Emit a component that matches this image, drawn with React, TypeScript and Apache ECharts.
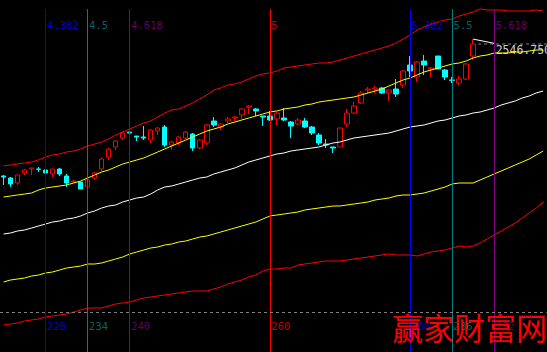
import React, { useEffect, useRef } from 'react';
import * as echarts from 'echarts';

// trading-day indices (x categories)
const categories = [
  '222','223','224','225','226','227','228','229','230','231',
  '232','233','234','235','236','237','238','239','240','241',
  '242','243','244','245','246','247','248','249','250','251',
  '252','253','254','255','256','257','258','259','260','261',
  '262','263','264','265','266','267','268','269','270','271',
  '272','273','274','275','276','277','278','279','280','281',
  '282','283','284','285','286','287','288','289','290','291',
  '292','293','294','295','296','297','298','299',
];

// candles (days 222..289)
const opens = [
  2136, 2130, 2115, 2145, 2157, 2157, 2154, 2142, 2157, 2136,
  2118, 2118, 2103, 2130, 2157, 2193, 2223, 2250, 2268, 2256,
  2253, 2244, 2271, 2283, 2229, 2235, 2250, 2262, 2220, 2235,
  2301, 2283, 2301, 2310, 2319, 2343, 2337, 2316, 2316, 2307,
  2310, 2298, 2292, 2301, 2283, 2259, 2232, 2223, 2223, 2292,
  2325, 2355, 2394, 2397, 2400, 2385, 2397, 2409, 2469, 2433,
  2481, 2457, 2496, 2454, 2424, 2415, 2427, 2496,
];
const closes = [
  2133, 2112, 2139, 2154, 2160, 2156, 2145, 2157, 2142, 2115,
  2121, 2097, 2124, 2145, 2187, 2217, 2241, 2265, 2265, 2253,
  2250, 2274, 2280, 2229, 2238, 2253, 2268, 2220, 2244, 2289,
  2289, 2292, 2307, 2313, 2337, 2346, 2331, 2313, 2304, 2325,
  2304, 2286, 2304, 2283, 2265, 2235, 2229, 2220, 2280, 2325,
  2346, 2385, 2397, 2400, 2385, 2394, 2382, 2451, 2451, 2478,
  2469, 2460, 2457, 2433, 2423, 2427, 2472, 2532,
];
const lows = [
  2109, 2103, 2109, 2139, 2139, 2148, 2133, 2133, 2136, 2103,
  2115, 2097, 2100, 2124, 2151, 2184, 2214, 2244, 2256, 2241,
  2244, 2235, 2259, 2223, 2214, 2229, 2247, 2211, 2217, 2229,
  2283, 2274, 2295, 2301, 2307, 2322, 2316, 2286, 2301, 2289,
  2301, 2250, 2289, 2280, 2259, 2229, 2220, 2205, 2223, 2283,
  2322, 2352, 2385, 2385, 2382, 2361, 2373, 2400, 2433, 2418,
  2439, 2433, 2457, 2424, 2415, 2409, 2424, 2484,
];
const highs = [
  2139, 2133, 2139, 2157, 2160, 2163, 2157, 2157, 2160, 2142,
  2124, 2118, 2130, 2148, 2190, 2220, 2244, 2268, 2271, 2256,
  2286, 2277, 2283, 2289, 2241, 2256, 2271, 2265, 2247, 2292,
  2313, 2295, 2313, 2316, 2340, 2349, 2340, 2316, 2331, 2328,
  2340, 2301, 2310, 2310, 2286, 2265, 2247, 2223, 2280, 2337,
  2358, 2391, 2403, 2406, 2403, 2394, 2427, 2454, 2496, 2481,
  2499, 2463, 2496, 2457, 2433, 2436, 2475, 2546.75,
];

// channel lines (days 222..299)
const upperRed = [
  2166, 2169, 2172, 2175, 2178, 2184, 2193, 2199, 2202, 2208,
  2211, 2217, 2226, 2232, 2238, 2247, 2259, 2268, 2277, 2286,
  2295, 2301, 2313, 2325, 2334, 2337, 2346, 2355, 2367, 2379,
  2394, 2400, 2409, 2412, 2418, 2427, 2436, 2442, 2445, 2451,
  2460, 2463, 2466, 2469, 2472, 2475, 2475, 2478, 2484, 2490,
  2496, 2502, 2508, 2514, 2520, 2526, 2535, 2547, 2559, 2574,
  2583, 2592, 2598, 2604, 2607, 2616, 2622, 2628, 2637, 2634,
  2634, 2634, 2631, 2631, 2631, 2631, 2634, 2631,
];
const upperYellow = [
  2073, 2076, 2079, 2082, 2085, 2094, 2100, 2103, 2106, 2109,
  2115, 2121, 2130, 2139, 2148, 2154, 2163, 2172, 2178, 2184,
  2190, 2199, 2208, 2217, 2226, 2235, 2244, 2253, 2262, 2271,
  2277, 2283, 2292, 2298, 2304, 2310, 2316, 2322, 2328, 2331,
  2337, 2340, 2343, 2349, 2352, 2358, 2361, 2364, 2367, 2370,
  2373, 2379, 2385, 2391, 2397, 2406, 2415, 2424, 2430, 2439,
  2448, 2454, 2460, 2466, 2472, 2475, 2481, 2490, 2496, 2499,
  2505, 2505, 2505, 2508, 2508, 2511, 2514, 2514,
];
const midWhite = [
  1962, 1965, 1971, 1974, 1980, 1986, 1992, 1998, 2001, 2007,
  2010, 2016, 2025, 2031, 2040, 2046, 2049, 2058, 2064, 2070,
  2073, 2082, 2094, 2103, 2106, 2112, 2118, 2124, 2130, 2133,
  2142, 2148, 2154, 2160, 2169, 2178, 2184, 2190, 2196, 2202,
  2205, 2211, 2214, 2217, 2220, 2223, 2229, 2235, 2238, 2244,
  2250, 2253, 2256, 2259, 2262, 2265, 2271, 2277, 2283, 2286,
  2289, 2295, 2301, 2304, 2310, 2316, 2319, 2325, 2328, 2334,
  2340, 2349, 2355, 2361, 2370, 2376, 2385, 2391,
];
const lowerYellow = [
  1818, 1824, 1827, 1830, 1836, 1839, 1845, 1848, 1854, 1860,
  1863, 1866, 1872, 1872, 1875, 1881, 1887, 1893, 1902, 1908,
  1914, 1920, 1923, 1929, 1932, 1938, 1941, 1947, 1953, 1956,
  1962, 1968, 1974, 1980, 1986, 1992, 1998, 2007, 2016, 2019,
  2022, 2025, 2028, 2034, 2037, 2040, 2043, 2046, 2046, 2049,
  2052, 2055, 2058, 2064, 2067, 2070, 2076, 2079, 2079, 2082,
  2085, 2091, 2097, 2103, 2112, 2115, 2115, 2115, 2124, 2133,
  2142, 2151, 2160, 2169, 2178, 2187, 2199, 2211,
];
const lowerRed = [
  1689, 1692, 1695, 1701, 1704, 1707, 1713, 1716, 1719, 1722,
  1728, 1734, 1740, 1740, 1740, 1746, 1752, 1755, 1758, 1764,
  1770, 1773, 1776, 1779, 1782, 1785, 1788, 1791, 1791, 1791,
  1797, 1803, 1812, 1818, 1824, 1833, 1839, 1851, 1857, 1857,
  1860, 1860, 1869, 1872, 1875, 1878, 1881, 1881, 1881, 1884,
  1887, 1890, 1893, 1896, 1899, 1902, 1899, 1899, 1899, 1896,
  1902, 1908, 1911, 1914, 1920, 1926, 1923, 1926, 1935, 1947,
  1959, 1971, 1983, 1995, 2010, 2025, 2040, 2058,
];

// Fibonacci time lines
const fibDays = ['228', '234', '240', '260', '280', '286', '292'];
const fibRatios = ['4.382', '4.5', '4.618', '5', '5.382', '5.5', '5.618'];
const fibColors = ['#0000ff', '#008080', '#800080', '#ff0000', '#0000ff', '#008080', '#800080'];

// annotation of last high
const markedDay = '289';
const markedHigh = 2546.75;
const markedText = '2546.750';
const markedLabelDay = '292';

const Y_MIN = 1608;
const Y_MAX = 2664;

export default function App() {
  const ref = useRef<HTMLDivElement>(null);
  useEffect(() => {
    document.body.style.margin = '0';
    const chart = echarts.init(ref.current!, null, { renderer: 'svg' });
    const candleData = opens.map((o, i) => [o, closes[i], lows[i], highs[i]]);
    const mono = 'DejaVu Sans Mono';
    const lineSeries = (data: number[], color: string) => ({
      type: 'line',
      data,
      symbol: 'none',
      showSymbol: false,
      silent: true,
      lineStyle: { color, width: 1 },
      z: 3,
    });
    const labelSeries = (data: any[], fontSize: number, z: number) => ({
      type: 'scatter',
      symbol: 'circle',
      symbolSize: 1,
      silent: true,
      itemStyle: { color: 'rgba(0,0,0,0)' },
      data,
      label: { show: true, position: 'right', distance: 1, formatter: '{b}', fontFamily: mono, fontSize },
      labelLayout: { hideOverlap: false },
      z,
    });
    const option: any = {
      animation: false,
      backgroundColor: '#000',
      grid: { left: -1.7, top: 0, width: 548.4, height: 352 },
      xAxis: { type: 'category', data: categories, boundaryGap: true, show: false },
      yAxis: { type: 'value', min: Y_MIN, max: Y_MAX, show: false, splitLine: { show: false } },
      series: [
        {
          type: 'candlestick',
          data: candleData,
          barWidth: 5,
          silent: true,
          itemStyle: {
            color: '#000',
            color0: '#00ffff',
            borderColor: '#ff0000',
            borderColor0: '#00ffff',
            borderWidth: 1,
          },
          markLine: {
            silent: true,
            symbol: ['none', 'none'],
            label: { show: false },
            data: [
              ...fibDays.map((d, i) => [
                { coord: [d, 2637], lineStyle: { color: fibColors[i], width: 1, type: 'solid' } },
                { coord: [d, Y_MIN] },
              ]),
              { yAxis: 1728, lineStyle: { color: '#808080', width: 1, type: [3, 3] } },
            ],
          },
          z: 2,
        },
        lineSeries(upperRed, '#ff0000'),
        lineSeries(upperYellow, '#ffff00'),
        lineSeries(midWhite, '#ffffff'),
        lineSeries(lowerYellow, '#ffff00'),
        lineSeries(lowerRed, '#ff0000'),
        {
          type: 'line',
          data: [[markedDay, markedHigh], [markedLabelDay, 2534]],
          symbol: 'none',
          silent: true,
          lineStyle: { color: '#ffffff', width: 1 },
          z: 4,
        },
        labelSeries(
          fibDays.map((d, i) => ({ name: fibRatios[i], value: [d, 2589], label: { color: fibColors[i] } })),
          10.5,
          5,
        ),
        labelSeries(
          fibDays.map((d, i) => ({ name: d, value: [d, 1686], label: { color: fibColors[i] } })),
          10.5,
          5,
        ),
        labelSeries(
          [{ name: markedText, value: [markedLabelDay, 2514], label: { color: '#ffffff' } }],
          11.5,
          6,
        ),
      ],
    };
    chart.setOption(option);
    const p = chart.convertToPixel({ gridIndex: 0 }, ['290', 2532]) as number[];
    chart.setOption({
      graphic: [
        {
          type: 'line',
          silent: true,
          shape: { x1: p[0] - 2, y1: p[1], x2: chart.getWidth(), y2: p[1] },
          style: { stroke: '#808080', lineWidth: 1, lineDash: [3, 3] },
          z: 4,
        },
        {
          type: 'text',
          silent: true,
          left: 392,
          top: 311,
          style: { text: '赢家财富网', fill: '#ff0000', fontSize: 31, fontFamily: 'Noto Sans CJK SC' },
          z: 10,
        },
      ],
    });
    return () => chart.dispose();
  }, []);
  return (
    <div
      ref={ref}
      style={{ position: 'absolute', left: 0, top: 0, width: 547, height: 352, background: '#000' }}
    />
  );
}
